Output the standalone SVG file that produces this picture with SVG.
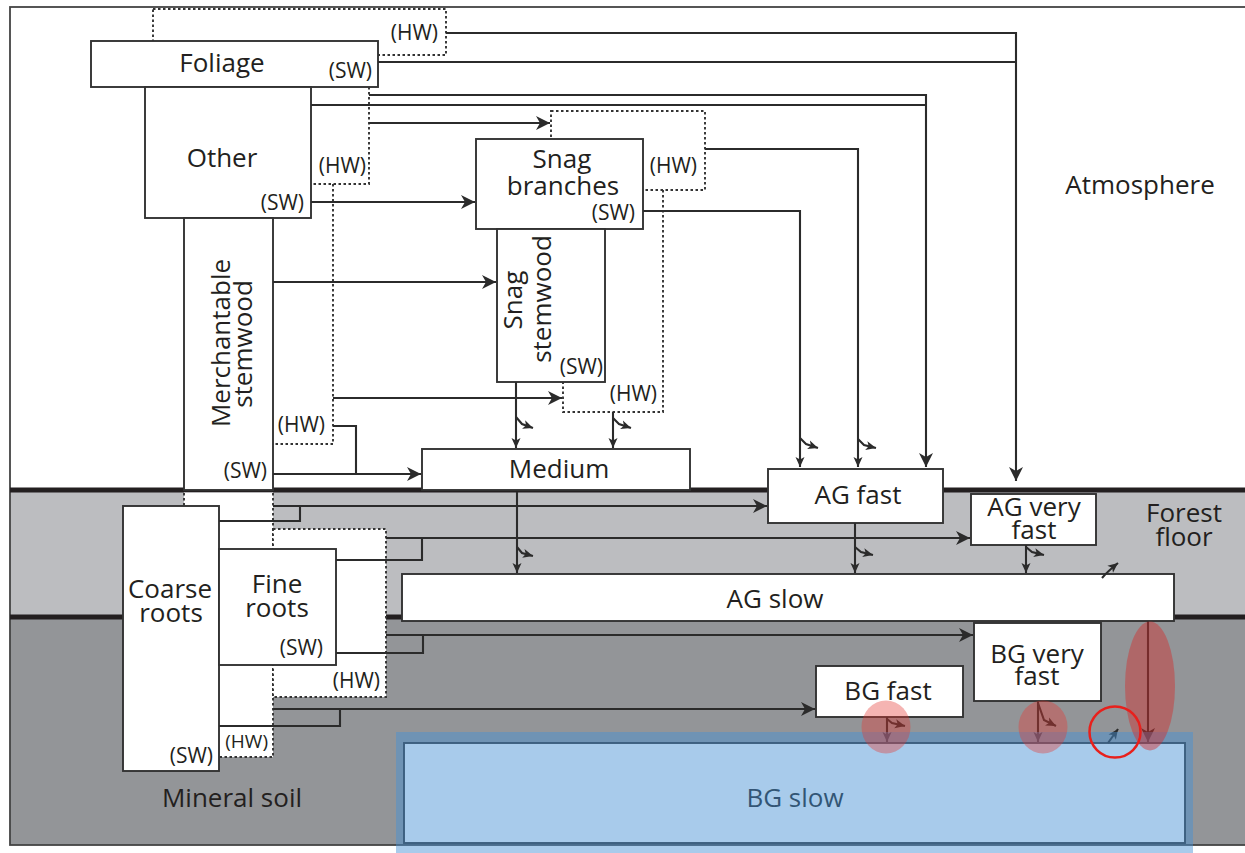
<svg xmlns="http://www.w3.org/2000/svg" width="1245" height="853" viewBox="0 0 1245 853">
<defs>
<style>
.box{fill:#fff;stroke:#333;stroke-width:1.9}
.hw{fill:#fff;stroke:#333;stroke-width:1.9;stroke-dasharray:2.5 2.5}
.dot{fill:none;stroke:#333;stroke-width:1.9;stroke-dasharray:2.5 2.5}
.t{font-family:"Open Sans","Noto Sans","Liberation Sans",sans-serif;font-size:26px;font-weight:500;fill:#231f20;text-anchor:middle}
.s{font-family:"Open Sans","Noto Sans","Liberation Sans",sans-serif;font-size:21px;font-weight:500;fill:#231f20;text-anchor:end}
.c{fill:none;stroke:#2b2b2b;stroke-width:2.1}
.a{marker-end:url(#ah)}
.p{marker-end:url(#sa)}
</style>
<marker id="ah" markerUnits="userSpaceOnUse" markerWidth="16" markerHeight="16" refX="14" refY="7" orient="auto" overflow="visible"><path d="M0,0 L14,7 L0,14 L4,7 z" fill="#2b2b2b"/></marker>
<marker id="sa" markerUnits="userSpaceOnUse" markerWidth="12" markerHeight="10" refX="10" refY="4.5" orient="auto" overflow="visible"><path d="M0,0 L10,4.5 L0,9 L2.5,4.5 z" fill="#2b2b2b"/></marker>
</defs>

<g id="background">
<rect x="0" y="0" width="1245" height="853" fill="#fff"/>
<rect x="10" y="490" width="1240" height="127" fill="#bcbdc0"/>
<rect x="10" y="617" width="1240" height="228" fill="#939598"/>
<rect x="10" y="7" width="1240" height="838" fill="none" stroke="#444" stroke-width="1.8"/>
<line x1="10" y1="490" x2="1245" y2="490" stroke="#231f20" stroke-width="5"/>
<line x1="10" y1="617" x2="1245" y2="617" stroke="#231f20" stroke-width="5"/>
<text class="t" x="1140" y="194">Atmosphere</text>
<text class="t" x="1184" y="522">Forest</text>
<text class="t" x="1184" y="546">floor</text>
<text class="t" x="232" y="807">Mineral soil</text>
</g>

<g id="foliage-hw">
<rect class="hw" x="153" y="9" width="293" height="46"/>
<text class="s" x="438" y="40">(HW)</text>
</g>
<g id="foliage">
<rect class="box" x="91" y="41" width="287" height="46"/>
<text class="t" x="222" y="72">Foliage</text>
<text class="s" x="372" y="78">(SW)</text>
</g>

<g id="other-hw">
<path class="dot" d="M369,87 V184 H311"/>
<text class="s" x="366" y="173">(HW)</text>
</g>
<g id="other">
<rect class="box" x="145" y="87" width="166" height="131"/>
<text class="t" x="222" y="167">Other</text>
<text class="s" x="304" y="210">(SW)</text>
</g>

<g id="merchantable-hw">
<path class="dot" d="M333,184 V444 H273"/>
<text class="s" x="325" y="432">(HW)</text>
</g>
<g id="merchantable">
<rect class="box" x="184" y="218" width="89" height="272"/>
<text class="t" transform="translate(230,343) rotate(-90)">Merchantable</text>
<text class="t" transform="translate(252,344) rotate(-90)">stemwood</text>
<text class="s" x="267" y="478">(SW)</text>
</g>

<g id="snag-branches-hw">
<rect class="hw" x="551" y="111" width="154" height="79"/>
<text class="s" x="697" y="173">(HW)</text>
</g>
<g id="snag-branches">
<rect class="box" x="476" y="139" width="167" height="90"/>
<text class="t" x="562" y="168">Snag</text>
<text class="t" x="563" y="195">branches</text>
<text class="s" x="635" y="220">(SW)</text>
</g>

<g id="snag-stemwood-hw">
<path class="dot" d="M663,190 V412 H563 V382"/>
<text class="s" x="657" y="401">(HW)</text>
</g>
<g id="snag-stemwood">
<rect class="box" x="497" y="229" width="108" height="153"/>
<text class="t" transform="translate(522,300) rotate(-90)">Snag</text>
<text class="t" transform="translate(551,299) rotate(-90)">stemwood</text>
<text class="s" x="603" y="374">(SW)</text>
</g>

<g id="medium">
<rect class="box" x="422" y="449" width="268" height="41"/>
<text class="t" x="559" y="478">Medium</text>
</g>

<g id="coarse-roots-hw">
<path d="M184,492.5 H273 V757 H219 V506 H184 Z" fill="#fff"/>
<path class="dot" d="M184,493 V506"/>
<path class="dot" d="M273,493 V757 H219"/>
<text class="s" x="268" y="748" style="font-size:19px">(HW)</text>
</g>
<g id="coarse-roots">
<rect class="box" x="123" y="506" width="96" height="265"/>
<text class="t" x="170" y="598">Coarse</text>
<text class="t" x="171" y="622">roots</text>
<text class="s" x="213" y="763">(SW)</text>
</g>

<g id="fine-roots-hw">
<rect class="hw" x="273" y="529" width="113" height="168"/>
<text class="s" x="380" y="688">(HW)</text>
</g>
<g id="fine-roots">
<rect class="box" x="219" y="549" width="117" height="116"/>
<text class="t" x="277" y="593">Fine</text>
<text class="t" x="277" y="617">roots</text>
<text class="s" x="323" y="655">(SW)</text>
</g>

<g id="ag-fast">
<rect class="box" x="768" y="469" width="175" height="54"/>
<text class="t" x="858" y="504">AG fast</text>
</g>
<g id="ag-very-fast">
<rect class="box" x="971" y="494" width="125" height="51"/>
<text class="t" x="1034" y="516">AG very</text>
<text class="t" x="1034" y="539">fast</text>
</g>
<g id="ag-slow">
<rect class="box" x="402" y="574" width="772" height="47"/>
<text class="t" x="775" y="608">AG slow</text>
</g>
<g id="bg-very-fast">
<rect class="box" x="974" y="623" width="127" height="78"/>
<text class="t" x="1037" y="663">BG very</text>
<text class="t" x="1037" y="685">fast</text>
</g>
<g id="bg-fast">
<rect class="box" x="816" y="666" width="147" height="51"/>
<text class="t" x="888" y="700">BG fast</text>
</g>
<g id="bg-slow">
<rect class="box" x="404" y="743" width="781" height="100"/>
<text class="t" x="795" y="807">BG slow</text>
</g>

<g id="connectors">
<path class="c a" d="M446,33 H1016 V481"/>
<path class="c" d="M378,62 H1016"/>
<path class="c a" d="M369,95 H926 V467"/>
<path class="c" d="M311,105 H926"/>
<path class="c a" d="M369,123 H550"/>
<path class="c a" d="M311,202 H475"/>
<path class="c p" d="M705,149 H858 V467"/>
<path class="c p" d="M858,439 L864,445 L876,448"/>
<path class="c p" d="M643,211 H800 V467"/>
<path class="c p" d="M800,438 L806,444 L818,448"/>
<path class="c a" d="M273,282 H496"/>
<path class="c a" d="M333,398 H562"/>
<path class="c a" d="M273,474 H421"/>
<path class="c" d="M333,426 H356 V474"/>
<path class="c p" d="M516,382 V448"/>
<path class="c p" d="M516,417 L522,424 L533,428"/>
<path class="c p" d="M613,412 V448"/>
<path class="c p" d="M613,418 L619,424 L631,428"/>
<path class="c p" d="M517,492 V573"/>
<path class="c p" d="M517,547 L522,553 L533,556"/>
<path class="c p" d="M855,523 V573"/>
<path class="c p" d="M855,547 L861,552 L873,555"/>
<path class="c p" d="M1026,545 V573"/>
<path class="c p" d="M1026,547 L1032,552 L1044,555"/>
<path class="c p" d="M1102,578 Q1108,571 1118,563"/>
<path class="c a" d="M273,506 H767"/>
<path class="c" d="M219,521 H300 V506"/>
<path class="c a" d="M386,538 H970"/>
<path class="c" d="M336,560 H422 V538"/>
<path class="c a" d="M386,635 H973"/>
<path class="c" d="M336,653 H423 V635"/>
<path class="c a" d="M273,709 H815"/>
<path class="c" d="M219,726 H340 V709"/>
<path class="c a" d="M1148,621 V742"/>
<path class="c p" d="M887,717 V742"/>
<path class="c p" d="M887,719 L892,723 L905,726"/>
<path class="c p" d="M1038,701 V742"/>
<path class="c p" d="M1038,703 L1044,720 L1056,726"/>
<path class="c p" d="M1108,743 L1118,729"/>
</g>

<g id="annotations">
<rect x="396" y="732" width="797" height="121" fill="rgb(70,145,213)" fill-opacity="0.47"/>
<ellipse cx="886" cy="727" rx="24.5" ry="26.5" fill="#e53935" fill-opacity="0.38"/>
<ellipse cx="1043" cy="727" rx="24.5" ry="26.5" fill="#e53935" fill-opacity="0.38"/>
<ellipse cx="1150" cy="686" rx="25" ry="64.5" fill="#d32f2f" fill-opacity="0.45"/>
<circle cx="1115" cy="732" r="25.5" fill="none" stroke="#e8201c" stroke-width="2.5"/>
</g>
</svg>
